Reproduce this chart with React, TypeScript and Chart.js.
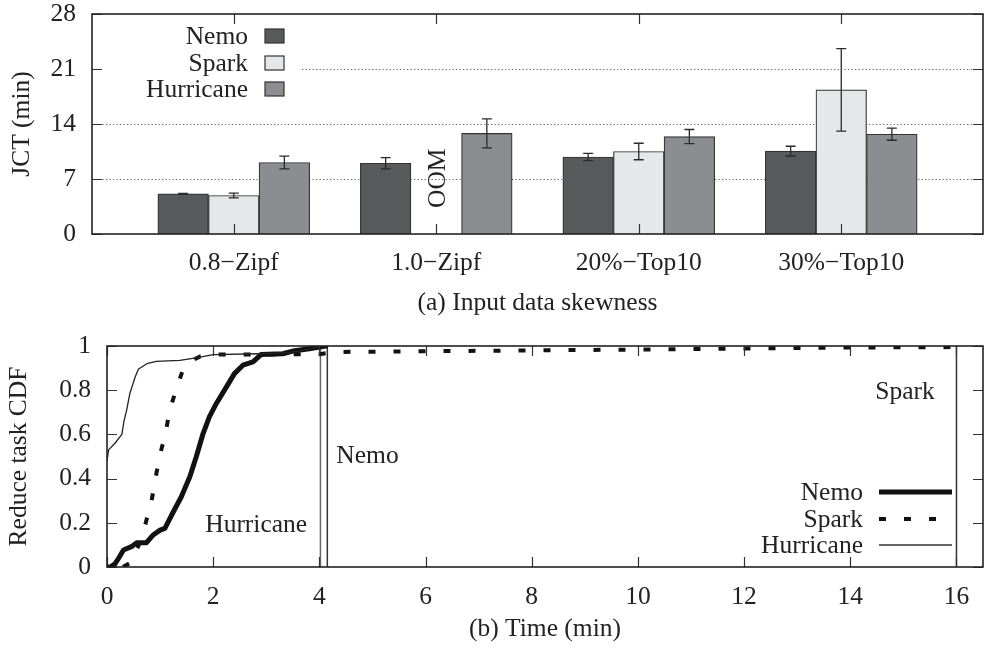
import React, { useEffect, useRef } from 'react';
import { Chart, registerables } from 'chart.js';

Chart.register(...registerables);

// ---------- data (top: JCT per skew) ----------
const categories = ['0.8\u2212Zipf', '1.0\u2212Zipf', '20%\u2212Top10', '30%\u2212Top10'];
const nemoJCT = [5.1, 9.0, 9.8, 10.55];
const nemoErr = [0.06, 0.72, 0.45, 0.62];
const sparkJCT: (number | null)[] = [4.9, null, 10.5, 18.35];
const sparkErr: (number | null)[] = [0.3, null, 1.05, 5.25];
const hurricaneJCT = [9.1, 12.8, 12.4, 12.7];
const hurricaneErr = [0.8, 1.85, 0.9, 0.77];
const yTicksTop = [0, 7, 14, 21, 28];
const gridTop = [7, 14, 21];

// ---------- data (bottom: reduce task CDF) ----------
const nemoCdfX = [0.02, 0.06, 0.15, 0.23, 0.31, 0.46, 0.56, 0.745, 0.87, 1.0, 1.09, 1.25, 1.4, 1.56, 1.68, 1.81, 1.93, 2.06, 2.25, 2.4, 2.56, 2.75, 2.9, 3.31, 3.5, 3.81, 4.09, 4.15];
const nemoCdfY = [0, 0, 0.014, 0.044, 0.077, 0.092, 0.11, 0.11, 0.145, 0.167, 0.175, 0.25, 0.318, 0.408, 0.498, 0.604, 0.68, 0.74, 0.815, 0.875, 0.913, 0.928, 0.961, 0.965, 0.977, 0.988, 0.999, 1.0];
const sparkCdfX = [0.3, 0.45, 0.6, 0.73, 0.84, 0.92, 1.0, 1.1, 1.18, 1.3, 1.42, 1.6, 1.75, 2.1, 4.0, 4.3, 10.0, 13.8, 15.9, 16.0];
const sparkCdfY = [0, 0.02, 0.1, 0.2, 0.3, 0.41, 0.51, 0.6, 0.71, 0.8, 0.886, 0.935, 0.952, 0.961, 0.963, 0.973, 0.984, 0.993, 0.995, 1.0];
const hurricaneCdfX = [0, 0.03, 0.15, 0.28, 0.32, 0.37, 0.43, 0.53, 0.59, 0.75, 0.93, 1.37, 1.68, 2.0, 2.87, 3.44, 3.87, 4.02];
const hurricaneCdfY = [0.48, 0.53, 0.56, 0.6, 0.66, 0.71, 0.785, 0.86, 0.895, 0.92, 0.93, 0.935, 0.946, 0.961, 0.965, 0.97, 0.988, 1.0];
const finishNames = ['Hurricane', 'Nemo', 'Spark'];
const finishTimes = [4.02, 4.15, 16.0];
const xTicksBottom = [0, 2, 4, 6, 8, 10, 12, 14, 16];
const yTicksBottom = [0, 0.2, 0.4, 0.6, 0.8, 1];

const FAMILY = "'Liberation Serif', 'Times New Roman', serif";
const INK = '#222';
const FONT = { family: FAMILY, size: 25.5, lineHeight: 1 };
const TITLE_FONT = { family: FAMILY, size: 25.5, lineHeight: 1.2 };

const COLORS = { Nemo: '#58595b', Spark: '#e6e7e8', Hurricane: '#8c8d90' };

function noPad(s: any) {
  s.paddingTop = 0; s.paddingBottom = 0; s.paddingLeft = 0; s.paddingRight = 0;
}

function drawFrameAndTicks(chart: any, xVals: number[], yVals: number[], tick: number) {
  const { ctx, chartArea: a, scales } = chart;
  const x = scales.x, y = scales.y;
  ctx.save();
  ctx.strokeStyle = '#333';
  ctx.lineWidth = 1.2;
  ctx.beginPath();
  for (const v of xVals) {
    const px = Math.round(x.getPixelForValue(v)) + 0.5;
    ctx.moveTo(px, a.bottom); ctx.lineTo(px, a.bottom - tick);
    ctx.moveTo(px, a.top); ctx.lineTo(px, a.top + tick);
  }
  for (const v of yVals) {
    const py = Math.round(y.getPixelForValue(v)) + 0.5;
    ctx.moveTo(a.left, py); ctx.lineTo(a.left + tick, py);
    ctx.moveTo(a.right, py); ctx.lineTo(a.right - tick, py);
  }
  ctx.stroke();
  ctx.strokeStyle = '#222';
  ctx.lineWidth = 1.6;
  ctx.strokeRect(a.left, a.top, a.right - a.left, a.bottom - a.top);
  ctx.restore();
}

const topPlugin = {
  id: 'topDecor',
  beforeDatasetsDraw(chart: any) {
    const { ctx, chartArea: a, scales: { y } } = chart;
    ctx.save();
    ctx.strokeStyle = '#666';
    ctx.lineWidth = 1;
    ctx.setLineDash([1.3, 2.2]);
    for (const v of gridTop) {
      const py = Math.round(y.getPixelForValue(v)) + 0.5;
      ctx.beginPath(); ctx.moveTo(a.left, py); ctx.lineTo(a.right, py); ctx.stroke();
    }
    ctx.setLineDash([]);
    ctx.fillStyle = '#fff';
    ctx.fillRect(a.left + 1, a.top + 1, 207, 88);
    ctx.restore();
  },
  afterDatasetsDraw(chart: any) {
    const { ctx, chartArea: a, scales: { x, y } } = chart;
    const errs = [nemoErr, sparkErr, hurricaneErr];
    const vals = [nemoJCT, sparkJCT, hurricaneJCT];
    ctx.save();
    ctx.strokeStyle = '#2a2a2a';
    ctx.lineWidth = 1.3;
    for (let d = 0; d < 3; d++) {
      const meta = chart.getDatasetMeta(d);
      vals[d].forEach((v, i) => {
        const e = errs[d][i];
        if (v == null || e == null) return;
        const px = meta.data[i].x;
        const y1 = y.getPixelForValue(v + e), y2 = y.getPixelForValue(v - e);
        ctx.beginPath();
        ctx.moveTo(px, y1); ctx.lineTo(px, y2);
        ctx.moveTo(px - 5, y1); ctx.lineTo(px + 5, y1);
        ctx.moveTo(px - 5, y2); ctx.lineTo(px + 5, y2);
        ctx.stroke();
      });
    }
    ctx.restore();
    drawFrameAndTicks(chart, [0, 1, 2, 3], yTicksTop, 10);
    // legend
    ctx.save();
    ctx.font = `25.5px ${FAMILY}`;
    ctx.fillStyle = INK;
    ctx.textAlign = 'right';
    ctx.textBaseline = 'middle';
    const names = ['Nemo', 'Spark', 'Hurricane'];
    const rows = [22, 49, 75];
    names.forEach((n, i) => {
      const cy = a.top + rows[i];
      ctx.fillStyle = INK;
      ctx.fillText(n, a.left + 156, cy + 1);
      ctx.fillStyle = (COLORS as any)[n];
      ctx.fillRect(a.left + 173, cy - 7, 19, 14);
      ctx.strokeStyle = '#333';
      ctx.lineWidth = 1.2;
      ctx.strokeRect(a.left + 173, cy - 7, 19, 14);
    });
    // OOM
    ctx.translate(x.getPixelForValue(1) + 2, y.getPixelForValue(7.1));
    ctx.rotate(-Math.PI / 2);
    ctx.textAlign = 'center';
    ctx.fillStyle = INK;
    ctx.fillText('OOM', 0, 0);
    ctx.restore();
  },
};

const bottomPlugin = {
  id: 'bottomDecor',
  afterDatasetsDraw(chart: any) {
    const { ctx, chartArea: a, scales: { x, y } } = chart;
    drawFrameAndTicks(chart, xTicksBottom, yTicksBottom, 10);
    ctx.save();
    ctx.font = `25.5px ${FAMILY}`;
    ctx.fillStyle = INK;
    ctx.textBaseline = 'middle';
    ctx.textAlign = 'right';
    ctx.fillText('Hurricane', x.getPixelForValue(3.77), y.getPixelForValue(0.19));
    ctx.fillText('Spark', x.getPixelForValue(15.59), y.getPixelForValue(0.79));
    ctx.textAlign = 'left';
    ctx.fillText('Nemo', x.getPixelForValue(4.32), y.getPixelForValue(0.5));
    // legend
    const rows = [75, 48, 22];
    const styles = [
      { w: 5, dash: [] as number[], c: '#111' },
      { w: 4, dash: [7, 18], c: '#111' },
      { w: 1.3, dash: [] as number[], c: '#333' },
    ];
    ['Nemo', 'Spark', 'Hurricane'].forEach((n, i) => {
      const cy = a.bottom - rows[i];
      ctx.textAlign = 'right';
      ctx.fillStyle = INK;
      ctx.fillText(n, a.right - 120, cy + 1);
      ctx.strokeStyle = styles[i].c;
      ctx.lineWidth = styles[i].w;
      ctx.setLineDash(styles[i].dash);
      ctx.beginPath();
      ctx.moveTo(a.right - 104, cy); ctx.lineTo(a.right - 31, cy);
      ctx.stroke();
    });
    ctx.restore();
  },
};

function pts(xs: number[], ys: number[]) {
  return xs.map((v, i) => ({ x: v, y: ys[i] }));
}

export default function App() {
  const topRef = useRef<HTMLCanvasElement>(null);
  const botRef = useRef<HTMLCanvasElement>(null);

  useEffect(() => {
    const top = new Chart(topRef.current as HTMLCanvasElement, {
      type: 'bar',
      data: {
        datasets: [
          { label: 'Nemo', data: nemoJCT.map((v, i) => ({ x: i, y: v })), backgroundColor: COLORS.Nemo },
          { label: 'Spark', data: sparkJCT.map((v, i) => ({ x: i, y: v })), backgroundColor: COLORS.Spark },
          { label: 'Hurricane', data: hurricaneJCT.map((v, i) => ({ x: i, y: v })), backgroundColor: COLORS.Hurricane },
        ] as any,
      },
      options: {
        responsive: false,
        animation: false,
        devicePixelRatio: 1,
        layout: { padding: { top: 14, right: 2, left: 0, bottom: 0 } },
        datasets: { bar: { barThickness: 50.6, borderWidth: 1.2, borderColor: '#333' } } as any,
        plugins: { legend: { display: false }, tooltip: { enabled: false } },
        scales: {
          x: {
            type: 'linear',
            offset: false,
            min: -0.7,
            max: 3.7,
            afterBuildTicks: (s: any) => { s.ticks = categories.map((_, i) => ({ value: i })); },
            afterFit: (s: any) => { s.height = 91; noPad(s); },
            ticks: {
              callback: (v: any) => categories[Math.round(Number(v))] ?? '',
              font: FONT, color: INK, padding: 17, maxRotation: 0, autoSkip: false,
            },
            grid: { display: false, drawTicks: false, offset: false },
            border: { display: false },
            title: { display: true, text: '(a) Input data skewness', font: TITLE_FONT, color: INK, padding: { top: 0, bottom: 6 } },
          },
          y: {
            min: 0,
            max: 28,
            afterBuildTicks: (s: any) => { s.ticks = yTicksTop.map((v) => ({ value: v })); },
            afterFit: (s: any) => { s.width = 92; noPad(s); },
            ticks: { font: FONT, color: INK, padding: 16, callback: (v: any) => String(v) },
            grid: { display: false, drawTicks: false },
            border: { display: false },
            title: { display: true, text: 'JCT (min)', font: TITLE_FONT, color: INK, padding: { top: 7, bottom: 0 } },
          },
        } as any,
      },
      plugins: [topPlugin],
    });

    const lineDs = (label: string, data: any[], w: number, color: string, dash: number[] = []) => ({
      label, data, showLine: true, borderColor: color, borderWidth: w, borderDash: dash,
      pointRadius: 0, tension: 0, fill: false, borderCapStyle: 'butt', borderJoinStyle: 'round',
    });

    const bottom = new Chart(botRef.current as HTMLCanvasElement, {
      type: 'scatter',
      data: {
        datasets: [
          lineDs('Hurricane', pts(hurricaneCdfX, hurricaneCdfY), 1.3, '#222'),
          lineDs('Spark', pts(sparkCdfX, sparkCdfY), 4, '#111', [7, 18]),
          lineDs('Nemo', pts(nemoCdfX, nemoCdfY), 5, '#111'),
          ...finishTimes.map((t, i) =>
            lineDs(finishNames[i] + ' end', [{ x: t, y: 0 }, { x: t, y: 1 }], 1.5, i === 0 ? '#666' : '#333')),
        ] as any,
      },
      options: {
        responsive: false,
        animation: false,
        devicePixelRatio: 1,
        layout: { padding: { top: 21, right: 2, left: 0, bottom: 0 } },
        plugins: { legend: { display: false }, tooltip: { enabled: false } },
        scales: {
          x: {
            type: 'linear',
            offset: false,
            min: 0,
            max: 16.5,
            afterBuildTicks: (s: any) => { s.ticks = xTicksBottom.map((v) => ({ value: v })); },
            afterFit: (s: any) => { s.height = 83; noPad(s); },
            ticks: { font: FONT, color: INK, padding: 18, maxRotation: 0, autoSkip: false, callback: (v: any) => String(v) },
            grid: { display: false, drawTicks: false },
            border: { display: false },
            title: { display: true, text: '(b) Time (min)', font: TITLE_FONT, color: INK, padding: { top: 0, bottom: 5 } },
          },
          y: {
            min: 0,
            max: 1,
            afterBuildTicks: (s: any) => { s.ticks = yTicksBottom.map((v) => ({ value: v })); },
            afterFit: (s: any) => { s.width = 107; noPad(s); },
            ticks: { font: FONT, color: INK, padding: 16, callback: (v: any) => String(Math.round(Number(v) * 10) / 10) },
            grid: { display: false, drawTicks: false },
            border: { display: false },
            title: { display: true, text: 'Reduce task CDF', font: TITLE_FONT, color: INK, padding: { top: 4, bottom: 0 } },
          },
        } as any,
      },
      plugins: [bottomPlugin],
    });

    return () => { top.destroy(); bottom.destroy(); };
  }, []);

  return (
    <div style={{ position: 'fixed', left: 0, top: 0, width: 985, height: 650, background: '#fff' }}>
      <canvas ref={topRef} width={985} height={325}
        style={{ position: 'absolute', left: 0, top: 0, width: 985, height: 325 }} />
      <canvas ref={botRef} width={985} height={325}
        style={{ position: 'absolute', left: 0, top: 325, width: 985, height: 325 }} />
    </div>
  );
}
